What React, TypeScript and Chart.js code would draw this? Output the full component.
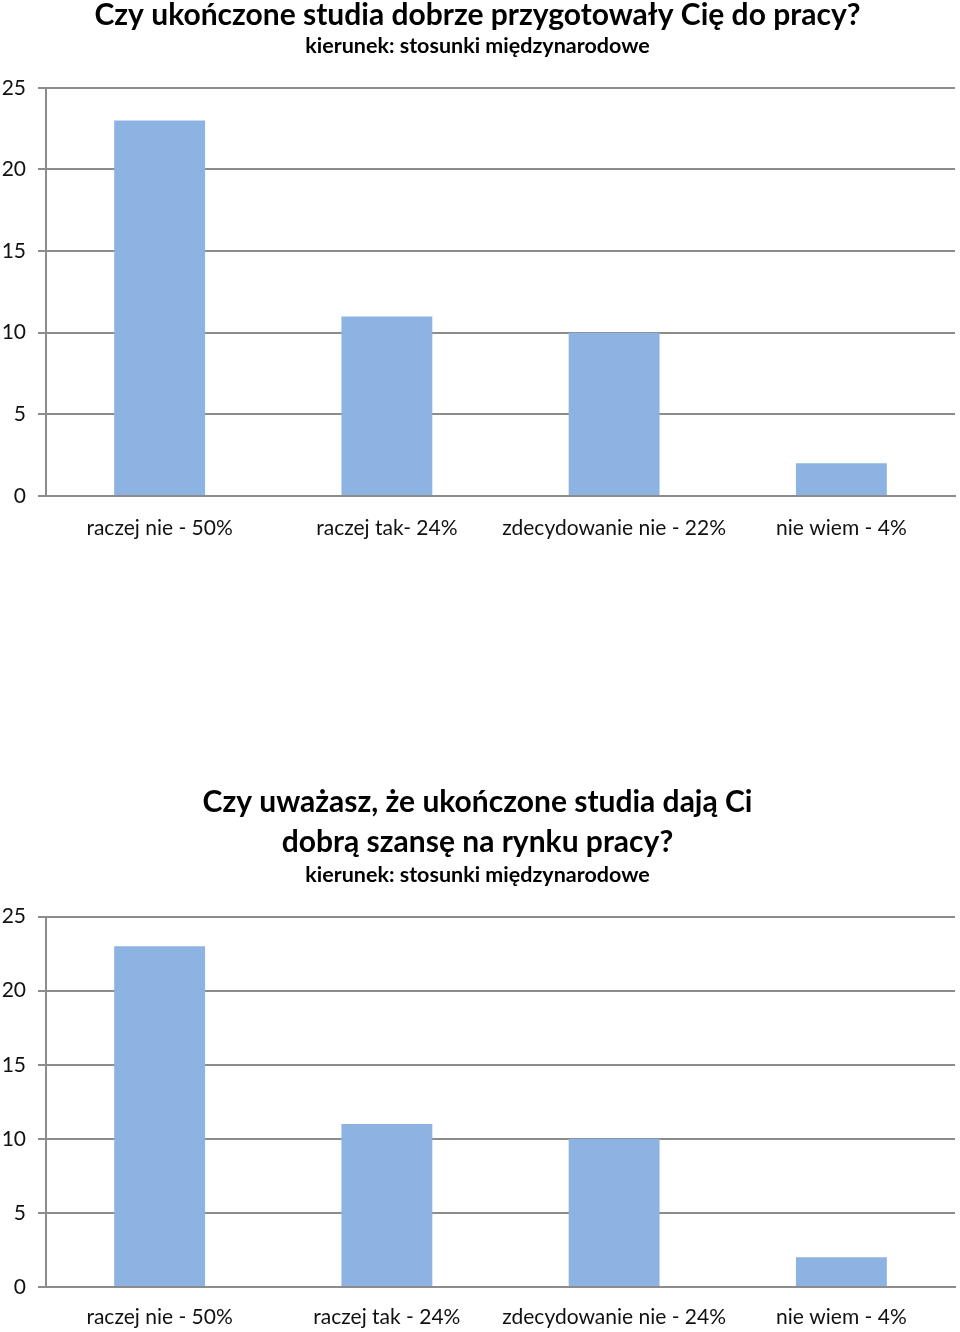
import React, { useEffect, useRef } from "react";
import { Chart, registerables } from "chart.js";

Chart.register(...registerables);

const categories1 = ["raczej nie - 50%", "raczej tak- 24%", "zdecydowanie nie - 22%", "nie wiem - 4%"];
const values1 = [23, 11, 10, 2];
const categories2 = ["raczej nie - 50%", "raczej tak - 24%", "zdecydowanie nie - 24%", "nie wiem - 4%"];
const values2 = [23, 11, 10, 2];
const title1 = ["Czy ukończone studia dobrze przygotowały Cię do pracy?"];
const title2 = ["Czy uważasz, że ukończone studia dają Ci", "dobrą szansę na rynku pracy?"];
const subtitleText = "kierunek: stosunki międzynarodowe";
const yMin = 0;
const yMax = 25;
const yStep = 5;

const FONT = "Lato, 'Open Sans', sans-serif";
const BAR = "#8db3e2";
const GRID = "#8c8c8c";

type Props = {
  labels: string[];
  values: number[];
  title: string[];
  height: number;
  titleLineHeight: number;
  titleTopPad: number;
  titleBottomPad: number;
  subBottomPad: number;
  xAxisHeight: number;
  xPad: number;
};

function BarChart(p: Props) {
  const ref = useRef<HTMLCanvasElement>(null);
  useEffect(() => {
    if (!ref.current) return;
    const chart = new Chart(ref.current, {
      type: "bar",
      data: {
        labels: p.labels,
        datasets: [
          {
            data: p.values,
            backgroundColor: BAR,
            barPercentage: 0.4,
            categoryPercentage: 1,
          },
        ],
      },
      options: {
        animation: false,
        responsive: false,
        layout: { padding: { left: 0, right: 5, top: 0, bottom: 0 } },
        plugins: {
          legend: { display: false },
          tooltip: { enabled: false },
          title: {
            display: true,
            text: p.title,
            color: "#000",
            font: { family: FONT, size: 30, weight: "bold", lineHeight: p.titleLineHeight },
            padding: { top: p.titleTopPad, bottom: p.titleBottomPad },
          },
          subtitle: {
            display: true,
            text: subtitleText,
            color: "#000",
            font: { family: FONT, size: 21.5, weight: "bold", lineHeight: 1.2 },
            padding: { top: 0, bottom: p.subBottomPad },
          },
        },
        scales: {
          x: {
            grid: { display: false },
            border: { display: true, color: GRID, width: 2 },
            ticks: {
              color: "#111",
              font: { family: FONT, size: 21 },
              padding: p.xPad,
              maxRotation: 0,
              autoSkip: false,
            },
            afterFit: (s: any) => {
              s.height = p.xAxisHeight;
            },
          },
          y: {
            min: yMin,
            max: yMax,
            grid: { color: GRID, lineWidth: 2, tickLength: 8 },
            border: { display: true, color: GRID, width: 2 },
            ticks: {
              stepSize: yStep,
              color: "#111",
              font: { family: FONT, size: 21 },
              padding: 12,
            },
            afterFit: (s: any) => {
              s.width = 46;
            },
          },
        },
      },
    });
    return () => chart.destroy();
  }, []);
  return <canvas ref={ref} width={960} height={p.height} style={{ display: "block", width: 960, height: p.height }} />;
}

export default function App() {
  return (
    <div style={{ position: "absolute", left: 0, top: 0, width: 960, height: 1332, background: "#fff" }}>
      <BarChart
        labels={categories1}
        values={values1}
        title={title1}
        height={560}
        titleLineHeight={1.0}
        titleTopPad={0}
        titleBottomPad={3}
        subBottomPad={29}
        xAxisHeight={64}
        xPad={12}
      />
      <div style={{ height: 210 }} />
      <BarChart
        labels={categories2}
        values={values2}
        title={title2}
        height={562}
        titleLineHeight={1.33}
        titleTopPad={12}
        titleBottomPad={0}
        subBottomPad={29}
        xAxisHeight={45}
        xPad={10}
      />
    </div>
  );
}
